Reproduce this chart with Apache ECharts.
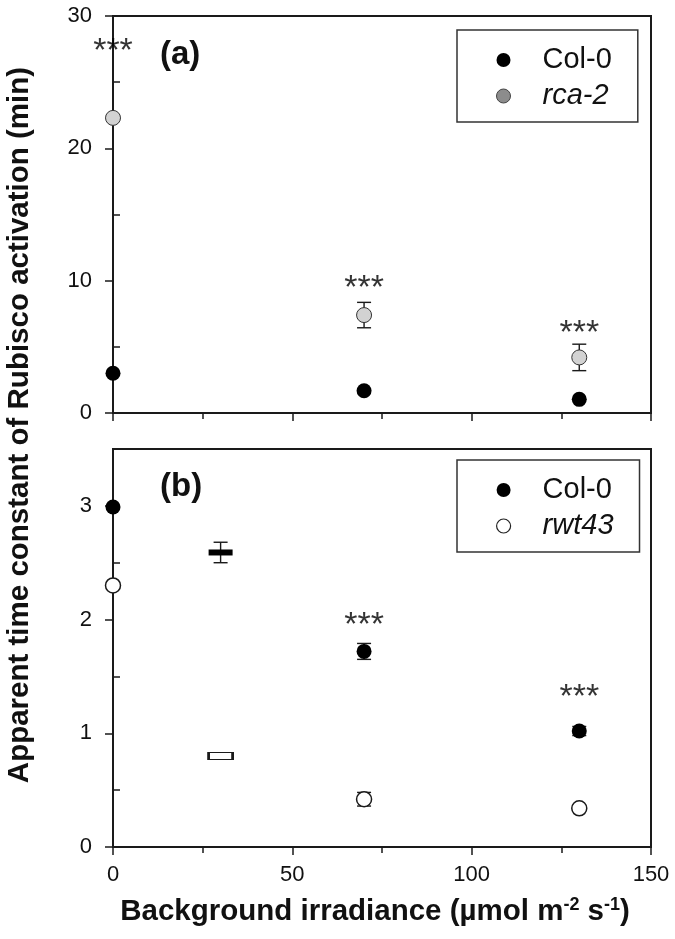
<!DOCTYPE html>
<html>
<head>
<meta charset="utf-8">
<script src="https://cdn.jsdelivr.net/npm/echarts@6/dist/echarts.min.js"></script>
<style>
html,body{margin:0;padding:0;background:#fff;}
#chart{width:675px;height:939px;}
</style>
</head>
<body>
<div id="chart"></div>
<script>
// ---------- data ----------
const xTop = [0, 70, 130];
const col0Top = [3.0, 1.68, 1.03];
const col0TopErr = [0, 0, 0];
const rca2Top = [22.3, 7.4, 4.2];
const rca2TopErr = [0, 0.96, 1.0];
const starsTopX = [0, 70, 130];
const starsTopY = [27.3, 9.4, 6.0];

const xBot = [0, 30, 70, 130];
const col0Bot = [2.99, 2.59, 1.72, 1.02];
const col0BotErr = [0, 0.09, 0.07, 0.04];
const rwt43Bot = [2.30, 0.80, 0.42, 0.34];
const rwt43BotErr = [0, 0.02, 0.06, 0];
const starsBotX = [70, 130];
const starsBotY = [1.95, 1.31];

const xTicks = [0, 50, 100, 150];
const yTopTicks = [0, 10, 20, 30];
const yBotTicks = [0, 1, 2, 3];

// ---------- helpers ----------
const FONT = '"Liberation Sans", Arial, sans-serif';
const INK = '#1a1a1a';
const zip = (xs, ys, es) => xs.map((x, i) => es ? [x, ys[i], es[i]] : [x, ys[i]]);
const flatX = 30; // measurements shown with flat markers

function errRender(params, api) {
  const x = api.value(0), y = api.value(1), e = api.value(2);
  if (!e) return null;
  const hi = api.coord([x, y + e]);
  const lo = api.coord([x, y - e]);
  const hw = 7;
  const st = {stroke: INK, lineWidth: 1.4};
  return {
    type: 'group',
    children: [
      {type: 'line', shape: {x1: hi[0], y1: hi[1], x2: lo[0], y2: lo[1]}, style: st},
      {type: 'line', shape: {x1: hi[0] - hw, y1: hi[1], x2: hi[0] + hw, y2: hi[1]}, style: st},
      {type: 'line', shape: {x1: lo[0] - hw, y1: lo[1], x2: lo[0] + hw, y2: lo[1]}, style: st}
    ]
  };
}

function xAxisCfg(gi, showLabels) {
  return {
    gridIndex: gi, type: 'value', min: xTicks[0], max: xTicks[xTicks.length - 1],
    interval: xTicks[1] - xTicks[0],
    axisLine: {lineStyle: {color: INK, width: 2}},
    axisTick: {length: 8, lineStyle: {color: INK, width: 1.5}},
    minorTick: {show: true, splitNumber: 2, length: 6, lineStyle: {color: INK, width: 1.5}},
    axisLabel: {show: showLabels, fontSize: 22, color: '#111', fontFamily: FONT, margin: 17},
    splitLine: {show: false}, minorSplitLine: {show: false}
  };
}
function yMain(gi, ticks, max) {
  return {
    gridIndex: gi, type: 'value', min: ticks[0], max: max, interval: ticks[1] - ticks[0],
    axisLine: {lineStyle: {color: INK, width: 2}},
    axisTick: {length: 8, lineStyle: {color: INK, width: 1.5}},
    axisLabel: {fontSize: 22, color: '#111', fontFamily: FONT, margin: 21, showMaxLabel: max === ticks[ticks.length - 1]},
    splitLine: {show: false}
  };
}
function yMinor(gi, ticks, max) {
  return {
    gridIndex: gi, type: 'value', min: ticks[0], max: max, interval: ticks[1] - ticks[0],
    position: 'left', offset: 0,
    axisLine: {show: false},
    axisTick: {show: false, inside: true},
    minorTick: {show: true, splitNumber: 2, length: 7, lineStyle: {color: INK, width: 1.5}},
    axisLabel: {show: false},
    splitLine: {show: false}, minorSplitLine: {show: false}
  };
}
function legendCfg(top, names, styles) {
  return {
    orient: 'vertical', left: 457, top: top, icon: 'circle',
    itemWidth: 68, itemHeight: 14, itemGap: 6,
    padding: [15, 26, 11, 39],
    borderColor: '#333', borderWidth: 1.5, selectedMode: false,
    data: names.map((n, i) => ({name: n, itemStyle: styles[i]})),
    formatter: n => n === 'Col-0' ? n : '{i|' + n + '}',
    textStyle: {fontSize: 29, color: '#111', fontFamily: FONT, lineHeight: 30,
      rich: {i: {fontSize: 29, fontStyle: 'italic', fontFamily: FONT, color: '#111', lineHeight: 30}}}
  };
}
const starSeries = (xs, ys, xi, yi) => ({
  type: 'scatter', xAxisIndex: xi, yAxisIndex: yi, silent: true, z: 5,
  data: zip(xs, ys), symbolSize: 1, itemStyle: {color: 'rgba(0,0,0,0)'},
  label: {show: true, position: 'inside', formatter: '***', fontSize: 34, color: '#000', fontFamily: FONT}
});
const errSeries = (name, data, xi, yi) => ({
  type: 'custom', name: name + ' err', xAxisIndex: xi, yAxisIndex: yi, z: 2, silent: true,
  renderItem: errRender, encode: {x: 0, y: 1}, data: data
});

const chart = echarts.init(document.getElementById('chart'), null, {renderer: 'canvas'});
chart.setOption({
  backgroundColor: '#fff',
  animation: false,
  grid: [
    {left: 113, top: 16, width: 538, height: 397, show: true, borderColor: INK, borderWidth: 2},
    {left: 113, top: 449, width: 538, height: 398, show: true, borderColor: INK, borderWidth: 2}
  ],
  title: [
    {text: '(a)', left: 160, top: 38, padding: 0, textStyle: {fontSize: 33, fontWeight: 'bold', fontFamily: FONT, color: '#111'}},
    {text: '(b)', left: 160, top: 470, padding: 0, textStyle: {fontSize: 33, fontWeight: 'bold', fontFamily: FONT, color: '#111'}}
  ],
  graphic: [{
    type: 'text', x: 20, y: 425, rotation: Math.PI / 2,
    style: {text: 'Apparent time constant of Rubisco activation (min)', fontSize: 29.5, fontWeight: 'bold',
      fontFamily: FONT, fill: '#111', align: 'center', verticalAlign: 'middle'}
  }, {
    type: 'text', x: 375, y: 912,
    style: {
      text: '{t|Background irradiance (µmol m}{s|-2}{t| s}{s|-1}{t|)}',
      align: 'center', verticalAlign: 'middle',
      rich: {
        t: {fontSize: 29.5, fontWeight: 'bold', fontFamily: FONT, fill: '#111', lineHeight: 31},
        s: {fontSize: 18, fontWeight: 'bold', fontFamily: FONT, fill: '#111', verticalAlign: 'top', lineHeight: 31, padding: [0, 0, 14, 0]}
      }
    }
  }],
  legend: [
    legendCfg(30, ['Col-0', 'rca-2'], [{color: '#000'}, {color: '#8c8c8c', borderColor: '#444', borderWidth: 1}]),
    legendCfg(460, ['Col-0', 'rwt43'], [{color: '#000'}, {color: '#fff', borderColor: '#222', borderWidth: 1.2}])
  ],
  xAxis: [xAxisCfg(0, false), xAxisCfg(1, true)],
  yAxis: [
    yMain(0, yTopTicks, 30), yMinor(0, yTopTicks, 30),
    yMain(1, yBotTicks, 3.5), yMinor(1, yBotTicks, 3.5)
  ],
  series: [
    errSeries('rca-2', zip(xTop, rca2Top, rca2TopErr), 0, 0),
    errSeries('Col-0 top', zip(xTop, col0Top, col0TopErr), 0, 0),
    {type: 'scatter', name: 'Col-0', xAxisIndex: 0, yAxisIndex: 0, z: 3, symbol: 'circle', symbolSize: 15,
      itemStyle: {color: '#000', opacity: 1}, data: zip(xTop, col0Top)},
    {type: 'scatter', name: 'rca-2', xAxisIndex: 0, yAxisIndex: 0, z: 3, symbol: 'circle', symbolSize: 15,
      itemStyle: {color: '#d2d2d2', borderColor: '#333', borderWidth: 1, opacity: 1}, data: zip(xTop, rca2Top)},
    starSeries(starsTopX, starsTopY, 0, 0),

    errSeries('Col-0 bot', zip(xBot, col0Bot, col0BotErr), 1, 2),
    errSeries('rwt43', zip(xBot, rwt43Bot, rwt43BotErr), 1, 2),
    {type: 'scatter', name: 'Col-0', xAxisIndex: 1, yAxisIndex: 2, z: 3,
      symbol: v => v[0] === flatX ? 'rect' : 'circle',
      symbolSize: v => v[0] === flatX ? [24, 6] : 15,
      itemStyle: {color: '#000', opacity: 1}, data: zip(xBot, col0Bot)},
    {type: 'scatter', name: 'rwt43', xAxisIndex: 1, yAxisIndex: 2, z: 3,
      symbol: v => v[0] === flatX ? 'rect' : 'circle',
      symbolSize: v => v[0] === flatX ? [24, 7] : 15,
      itemStyle: {color: '#fff', borderColor: '#1a1a1a', borderWidth: 1.5, opacity: 1}, data: zip(xBot, rwt43Bot)},
    starSeries(starsBotX, starsBotY, 1, 2)
  ]
});
</script>
</body>
</html>
